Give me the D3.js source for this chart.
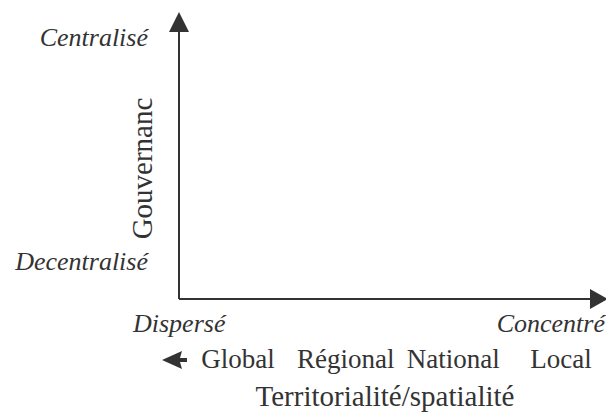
<!DOCTYPE html>
<html lang="fr">
<head>
<meta charset="UTF-8">
<title>Gouvernance / Territorialité</title>
<style>
  body { margin: 0; background: #fff; }
  text { font-family: "Liberation Serif", "Times New Roman", serif; fill: #333; }
  .end { font-style: italic; font-size: 26px; }
  .cat { font-size: 27px; }
  .title { font-size: 29px; }
</style>
</head>
<body>
<script src="https://d3js.org/d3.v7.min.js"></script>
<script>
const xEnds = ["Dispersé", "Concentré"];
const yEnds = ["Decentralisé", "Centralisé"];
const categories = ["Global", "Régional", "National", "Local"];
const xTitle = "Territorialité/spatialité";
const yTitle = "Gouvernanc";

const width = 606, height = 412;
const ink = "#333";

const svg = d3.select("body").append("svg")
    .attr("width", width)
    .attr("height", height);

// both axes are qualitative, 0 = low end, 1 = high end
const x = d3.scaleLinear().domain([0, 1]).range([179, 606]);
const y = d3.scaleLinear().domain([0, 1]).range([299, 12]);
const xCat = d3.scalePoint().domain(categories).range([238, 561]);

// axis lines
svg.append("line")
    .attr("x1", x(0)).attr("y1", y(0))
    .attr("x2", x(0)).attr("y2", y(1) + 18)
    .attr("stroke", ink).attr("stroke-width", 2);
svg.append("line")
    .attr("x1", x(0)).attr("y1", y(0))
    .attr("x2", x(1) - 14).attr("y2", y(0))
    .attr("stroke", ink).attr("stroke-width", 2);

// arrow heads
svg.append("path")
    .attr("d", `M${x(0)},${y(1)} L${x(0) + 10},${y(1) + 20} L${x(0) - 10},${y(1) + 20} Z`)
    .attr("fill", ink);
svg.append("path")
    .attr("d", `M${x(1) + 2},${y(0)} L${x(1) - 16},${y(0) - 10} L${x(1) - 16},${y(0) + 10} Z`)
    .attr("fill", ink);

// y end labels
svg.selectAll(".yend")
    .data(yEnds)
    .join("text")
    .attr("class", "end")
    .attr("text-anchor", "end")
    .attr("x", x(0) - 31)
    .attr("y", (d, i) => i === 0 ? y(0) - 29 : y(1) + 34)
    .text(d => d);

// x end labels
svg.selectAll(".xend")
    .data(xEnds)
    .join("text")
    .attr("class", "end")
    .attr("text-anchor", (d, i) => i === 0 ? "start" : "end")
    .attr("x", (d, i) => i === 0 ? x(0) - 46 : x(1) - 1)
    .attr("y", y(0) + 33)
    .text(d => d);

// y title
svg.append("text")
    .attr("class", "title")
    .attr("text-anchor", "middle")
    .attr("transform", `translate(${x(0) - 27},${(y(0) + y(1)) / 2 + 13}) rotate(-90)`)
    .text(yTitle);

// category row with left arrow
const catY = y(0) + 69;
const ay = catY - 8;
svg.append("path")
    .attr("d", `M162,${ay} L182,${ay - 9} L180,${ay - 2} L187,${ay - 2} L187,${ay + 2} L180,${ay + 2} L182,${ay + 9} Z`)
    .attr("fill", ink);
svg.selectAll(".cat")
    .data(categories)
    .join("text")
    .attr("class", "cat")
    .attr("text-anchor", "middle")
    .attr("x", d => xCat(d))
    .attr("y", catY)
    .text(d => d);

// x title
svg.append("text")
    .attr("class", "title")
    .attr("text-anchor", "middle")
    .attr("x", 385)
    .attr("y", catY + 38)
    .text(xTitle);
</script>
</body>
</html>
